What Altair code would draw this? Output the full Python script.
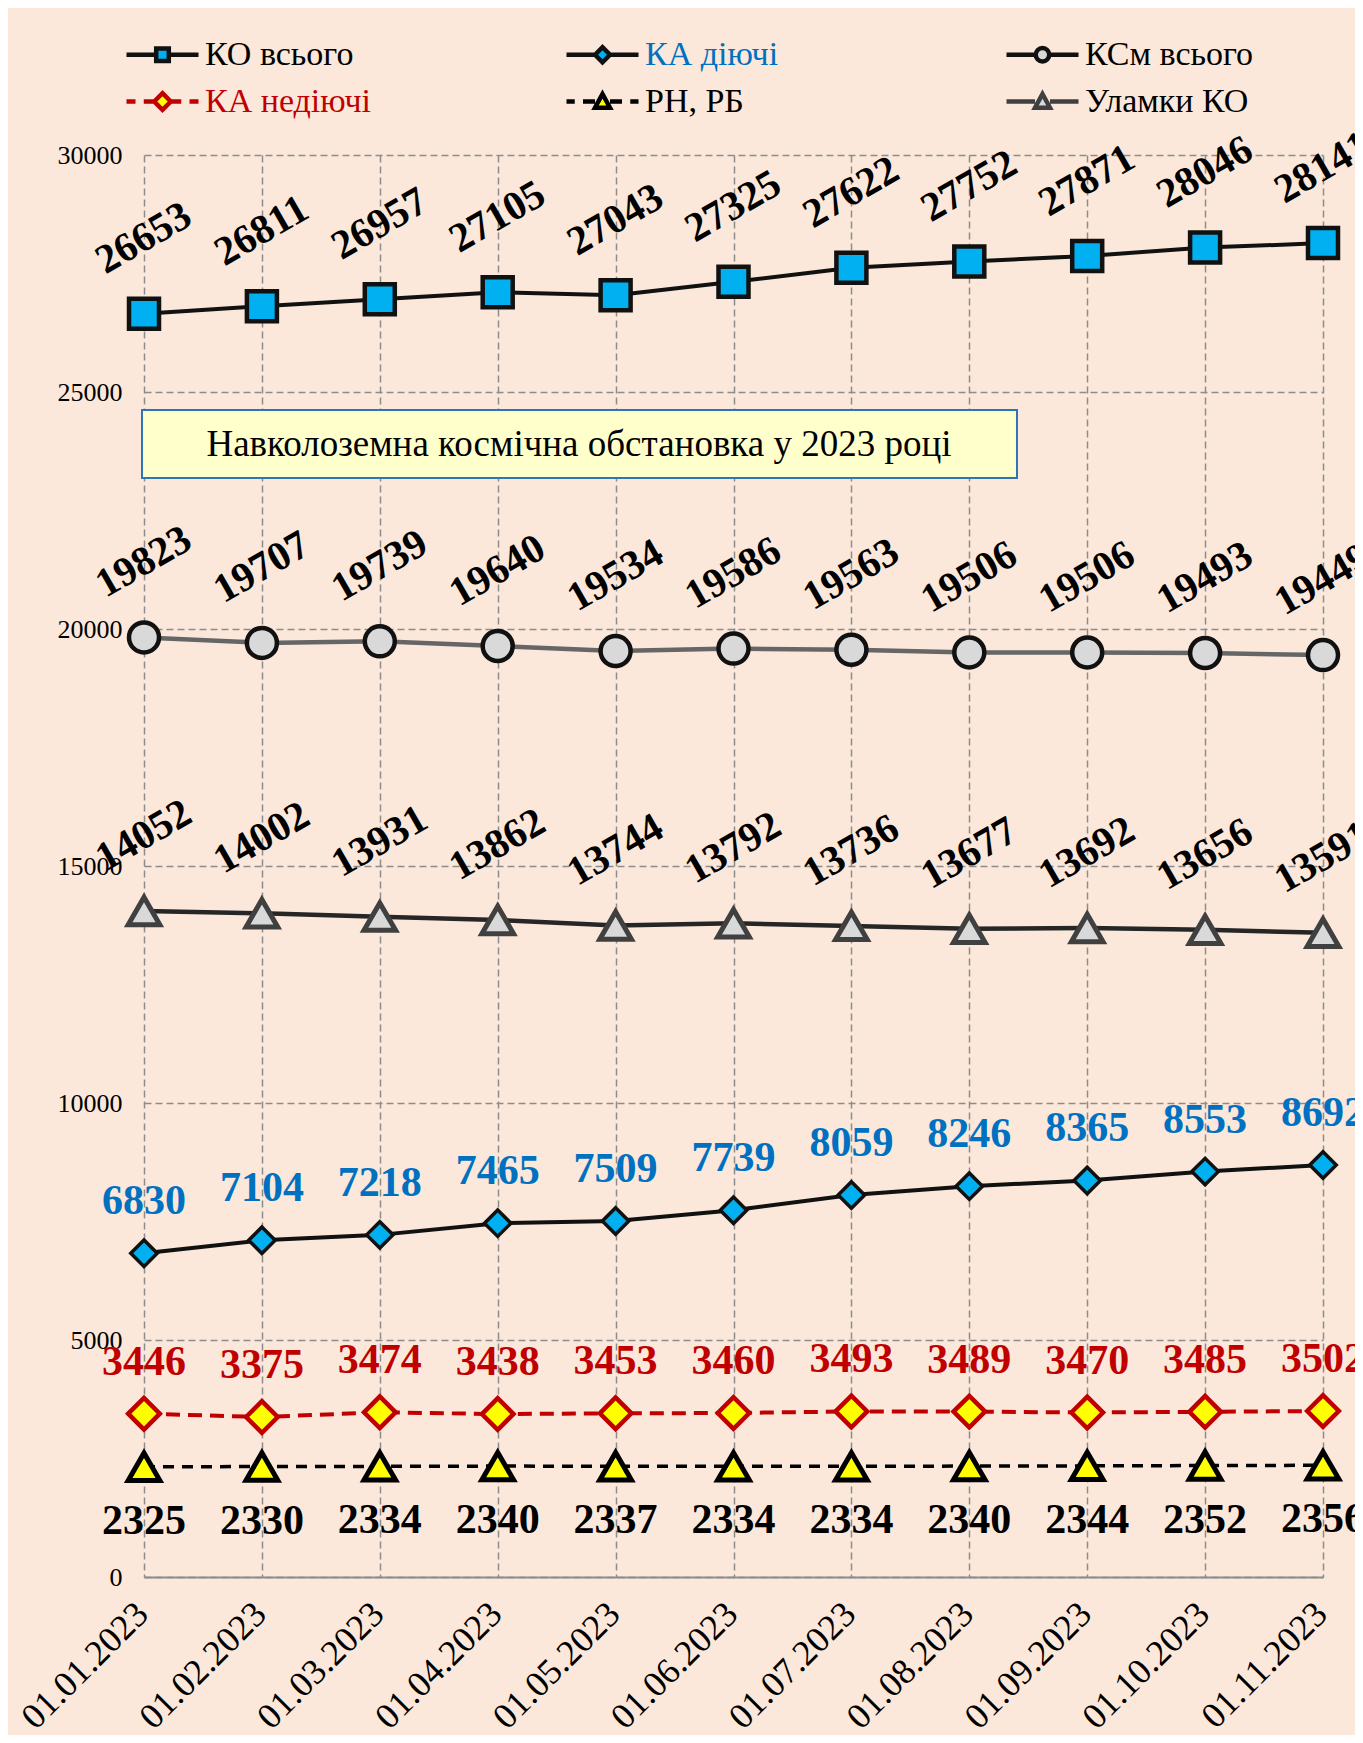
import altair as alt
import pandas as pd

dates = ["01.01.2023", "01.02.2023", "01.03.2023", "01.04.2023", "01.05.2023", "01.06.2023",
         "01.07.2023", "01.08.2023", "01.09.2023", "01.10.2023", "01.11.2023"]

ko_total = [26653, 26811, 26957, 27105, 27043, 27325, 27622, 27752, 27871, 28046, 28141]
ka_active = [6830, 7104, 7218, 7465, 7509, 7739, 8059, 8246, 8365, 8553, 8692]
ksm_total = [19823, 19707, 19739, 19640, 19534, 19586, 19563, 19506, 19506, 19493, 19449]
ka_inactive = [3446, 3375, 3474, 3438, 3453, 3460, 3493, 3489, 3470, 3485, 3502]
rn_rb = [2325, 2330, 2334, 2340, 2337, 2334, 2334, 2340, 2344, 2352, 2356]
debris = [14052, 14002, 13931, 13862, 13744, 13792, 13736, 13677, 13692, 13656, 13591]

series_names = ["КО всього", "КА діючі", "КСм всього", "КА недіючі", "РН, РБ", "Уламки КО"]
series_values = [ko_total, ka_active, ksm_total, ka_inactive, rn_rb, debris]

y_ticks = [0, 5000, 10000, 15000, 20000, 25000, 30000]
title_text = "Навколоземна космічна обстановка у 2023 році"

rows = []
for name, vals in zip(series_names, series_values):
    for d, v in zip(dates, vals):
        rows.append({"date": d, "series": name, "value": v})
df = pd.DataFrame(rows)

FONT = "Liberation Serif"

styles = {
    "КО всього": dict(line="#111111", lw=4, dash=None, shape="square", size=900, fill="#00B0F0",
                      stroke="#111111", sw=4.5, label="rot", lcolor="#000000"),
    "КА діючі": dict(line="#111111", lw=4, dash=None, shape="diamond", size=700, fill="#00B0F0",
                     stroke="#111111", sw=3.5, label="above", lcolor="#0070C0"),
    "КСм всього": dict(line="#666666", lw=4.5, dash=None, shape="circle", size=900, fill="#D9D9D9",
                       stroke="#111111", sw=4.5, label="rot", lcolor="#000000"),
    "КА недіючі": dict(line="#C00000", lw=4, dash=[14, 8], shape="diamond", size=1000, fill="#FFFF00",
                       stroke="#C00000", sw=4.5, label="above", lcolor="#C00000"),
    "РН, РБ": dict(line="#000000", lw=3.5, dash=[11, 8], shape="triangle-up", size=1000, fill="#FFFF00",
                   stroke="#000000", sw=5, label="below", lcolor="#000000"),
    "Уламки КО": dict(line="#262626", lw=4.5, dash=None, shape="triangle-up", size=1000, fill="#D9D9D9",
                      stroke="#404040", sw=5, label="rot", lcolor="#000000"),
}

legend_paths = {
    "КО всього": "M-2.4,0H-0.45M0.45,0H2.4M-0.42,-0.42H0.42V0.42H-0.42Z",
    "КА діючі": "M-2.4,0H-0.5M0.5,0H2.4M-0.5,0L0,-0.5L0.5,0L0,0.5Z",
    "КСм всього": "M-2.4,0H-0.45M0.45,0H2.4M0.45,0A0.45,0.45 0 1,1 -0.45,0A0.45,0.45 0 1,1 0.45,0Z",
    "КА недіючі": "M-2.4,0H-1.8M-1.25,0H-0.55M0.55,0H1.25M1.8,0H2.4M-0.55,0L0,-0.55L0.55,0L0,0.55Z",
    "РН, РБ": "M-2.4,0H-1.85M-1.3,0H-0.5M0.5,0H1.3M1.85,0H2.4M0,-0.5L0.5,0.42L-0.5,0.42Z",
    "Уламки КО": "M-2.4,0H-0.5M0.5,0H2.4M0,-0.5L0.5,0.42L-0.5,0.42Z",
}

x_enc = alt.X("date:O", sort=dates,
              scale=alt.Scale(type="point", padding=0),
              axis=alt.Axis(title=None, labelAngle=315, labelAlign="right", labelBaseline="middle",
                            labelFont=FONT, labelFontSize=36, labelColor="#000000",
                            labelPadding=31, labelOffset=-2, ticks=False,
                            domain=True, domainColor="#8C8C8C", domainWidth=2,
                            grid=True, gridColor="#8C8C8C", gridDash=[7, 4], gridWidth=1.5))
y_enc = alt.Y("value:Q",
              scale=alt.Scale(domain=[0, 30000], nice=False, zero=True),
              axis=alt.Axis(title=None, values=y_ticks, format="d", labelFont=FONT, labelFontSize=26,
                            labelColor="#000000", labelPadding=22, ticks=False, domain=False,
                            grid=True, gridColor="#8C8C8C", gridDash=[7, 4], gridWidth=1.5))

base = alt.Chart(df)
line_layers, point_layers, text_layers = [], [], []
for name in series_names:
    s = styles[name]
    sub = base.transform_filter(alt.datum.series == name)
    if s["dash"]:
        lm = sub.mark_line(color=s["line"], strokeWidth=s["lw"], strokeDash=s["dash"])
    else:
        lm = sub.mark_line(color=s["line"], strokeWidth=s["lw"])
    line_layers.append(lm.encode(x=x_enc, y=y_enc))
    point_layers.append(
        sub.mark_point(shape=s["shape"], size=s["size"], filled=True, fill=s["fill"], stroke=s["stroke"],
                       strokeWidth=s["sw"], opacity=1, fillOpacity=1, strokeOpacity=1)
        .encode(x=x_enc, y=y_enc)
    )
    if s["label"] == "rot":
        tm = sub.mark_text(font=FONT, fontWeight="bold", fontSize=41, angle=330, dx=37.5, dy=-65,
                           align="center", baseline="middle", color=s["lcolor"])
    elif s["label"] == "above":
        tm = sub.mark_text(font=FONT, fontWeight="bold", fontSize=42, dy=-52,
                           align="center", baseline="middle", color=s["lcolor"])
    else:
        tm = sub.mark_text(font=FONT, fontWeight="bold", fontSize=42, dy=54,
                           align="center", baseline="middle", color=s["lcolor"])
    text_layers.append(tm.encode(x=x_enc, y=y_enc, text=alt.Text("value:Q", format="d")))

leg = alt.Legend(title=None, orient="none", legendX=1, legendY=-118, direction="horizontal",
                 columns=3, gridAlign="all", columnPadding=183, rowPadding=12,
                 symbolSize=900, symbolStrokeWidth=4.5, labelFont=FONT, labelFontSize=34,
                 labelOffset=25, labelLimit=400, padding=0, symbolOpacity=1,
                 labelColor=alt.ExprRef(expr="datum.label == 'КА діючі' ? '#0070C0' : (datum.label == 'КА недіючі' ? '#C00000' : '#000000')"))

legend_layer = alt.Chart(df).transform_filter("false").mark_point(strokeWidth=4.5, opacity=1).encode(
    shape=alt.Shape("series:N", scale=alt.Scale(domain=series_names,
                                                range=[legend_paths[n] for n in series_names]), legend=leg),
    fill=alt.Fill("series:N", scale=alt.Scale(domain=series_names,
                                              range=[styles[n]["fill"] for n in series_names]), legend=leg),
    stroke=alt.Stroke("series:N", scale=alt.Scale(domain=series_names,
                                                  range=[styles[n]["stroke"] for n in series_names]), legend=leg),
)

title_df = pd.DataFrame({"t": [title_text]})
title_box = alt.Chart(title_df).mark_rect(fill="#FFFFCC", stroke="#2E75B6", strokeWidth=2).encode(
    x=alt.value(-2), x2=alt.value(873), y=alt.value(255), y2=alt.value(323))
title_txt = alt.Chart(title_df).mark_text(font=FONT, fontSize=37, color="#000000", align="center",
                                          baseline="middle").encode(
    x=alt.value(435), y=alt.value(290), text="t:N")

chart = alt.layer(*line_layers, *point_layers, title_box, title_txt, *text_layers, legend_layer).properties(
    width=1179, height=1422,
    padding={"left": 136, "top": 147, "right": 32, "bottom": 158},
    autosize=alt.AutoSizeParams(type="none"),
).configure(background="#FBE8DA", font=FONT).configure_view(strokeWidth=0).configure_axis(
    labelFont=FONT).configure_legend(labelFont=FONT)

chart.save("out.html", embed_options={"renderer": "svg", "actions": False})
